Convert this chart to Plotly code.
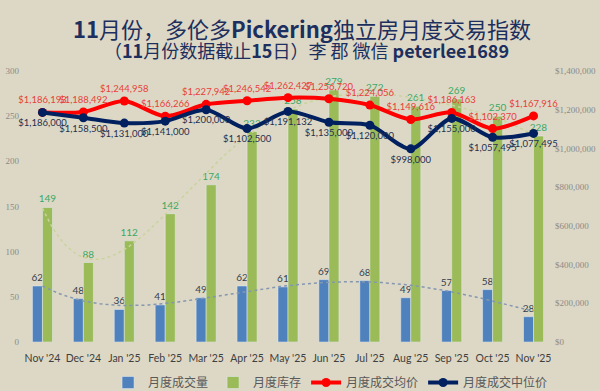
import numpy as np
import plotly.graph_objects as go

months = ["Nov '24", "Dec '24", "Jan '25", "Feb '25", "Mar '25", "Apr '25", "May '25",
          "Jun '25", "Jul '25", "Aug '25", "Sep '25", "Oct '25", "Nov '25"]
volume = [62, 48, 36, 41, 49, 62, 61, 69, 68, 49, 57, 58, 28]
inventory = [149, 88, 112, 142, 174, 233, 258, 279, 272, 261, 269, 250, 228]
avg_price = [1186193, 1188492, 1244958, 1166266, 1227942, 1246542, 1262427,
             1256720, 1224056, 1149616, 1186163, 1102370, 1167916]
median_price = [1186000, 1158500, 1131000, 1141000, 1200000, 1102500, 1191132,
                1135000, 1120000, 998000, 1155000, 1057495, 1077495]
left_ticks = [0, 50, 100, 150, 200, 250, 300]
right_ticks = [0, 200000, 400000, 600000, 800000, 1000000, 1200000, 1400000]

x = list(range(len(months)))
BG = "#ddd8c5"
NUMFONT = "Lato, 'Liberation Sans', sans-serif"
TICKFONT = "Lato, 'Liberation Sans', sans-serif"
CJK = "'Noto Sans CJK SC', sans-serif"

# trendlines (polynomial fits of the data, like the spreadsheet trendlines)
xf = np.linspace(0, len(months) - 1, 121)
inv_fit = np.polyval(np.polyfit(x, inventory, 5), xf)
vol_fit = np.polyval(np.polyfit(x, volume, 4), xf)

fig = go.Figure()
fig.add_trace(go.Bar(
    x=x, y=volume, name="月度成交量", marker_color="#4f81bd",
    text=[str(v) for v in volume], textposition="outside", constraintext="none",
    textfont=dict(color="#333f50", size=10, family=NUMFONT), cliponaxis=False))
fig.add_trace(go.Bar(
    x=x, y=inventory, name="月度库存", marker_color="#9bbb59",
    text=[str(v) for v in inventory], textposition="outside", constraintext="none",
    textfont=dict(color="#3aa865", size=10, family=NUMFONT), cliponaxis=False))
fig.add_trace(go.Scatter(
    x=xf, y=inv_fit, mode="lines", line=dict(color="#c9d39c", width=1.5, dash="dot"),
    showlegend=False, hoverinfo="skip"))
fig.add_trace(go.Scatter(
    x=xf, y=vol_fit, mode="lines", line=dict(color="#8497b0", width=1.5, dash="dot"),
    showlegend=False, hoverinfo="skip"))
fig.add_trace(go.Scatter(
    x=x, y=avg_price, name="月度成交均价", yaxis="y2", mode="lines+markers+text",
    line=dict(color="#ff0000", width=4, shape="spline", smoothing=0.8),
    marker=dict(color="#ff0000", size=9),
    text=[f"${v:,}" for v in avg_price], textposition="top center",
    textfont=dict(color="#e8403a", size=9.5, family=NUMFONT), cliponaxis=False))
fig.add_trace(go.Scatter(
    x=x, y=median_price, name="月度成交中位价", yaxis="y2", mode="lines+markers+text",
    line=dict(color="#002060", width=4, shape="spline", smoothing=0.8),
    marker=dict(color="#002060", size=9),
    text=[f"${v:,}" for v in median_price], textposition="bottom center",
    textfont=dict(color="#1f3050", size=9.5, family=NUMFONT), cliponaxis=False))

fig.update_layout(
    width=600, height=391,
    margin=dict(l=22, r=46, t=71, b=49, autoexpand=False),
    paper_bgcolor=BG, plot_bgcolor=BG,
    barmode="group", bargap=0.51, bargroupgap=0,
    showlegend=True,
    legend=dict(orientation="h", x=0.58, xanchor="center", y=-0.096, yanchor="top",
                font=dict(family=CJK, size=12, color="#595959"),
                bgcolor="rgba(0,0,0,0)", itemwidth=30, tracegroupgap=0),
    xaxis=dict(range=[-0.5, len(months) - 0.5], tickvals=x, ticktext=months,
               showgrid=False, zeroline=False, showline=False, ticks="",
               tickangle=0, automargin=False, ticklabelstandoff=8,
               tickfont=dict(family=TICKFONT, size=10.5, color="#404040")),
    yaxis=dict(range=[0, 300], tickvals=left_ticks, showgrid=False, zeroline=False,
               showline=False, ticks="", automargin=False, ticklabelstandoff=2,
               tickfont=dict(family="'Liberation Serif', serif", size=9, color="#8a8a8a")),
    yaxis2=dict(range=[0, 1400000], tickvals=right_ticks,
                ticktext=[f"${v:,}" for v in right_ticks], overlaying="y", side="right",
                showgrid=False, zeroline=False, showline=False, ticks="", automargin=False,
                tickfont=dict(family="'Liberation Serif', serif", size=9, color="#8a8a8a")),
)
fig.add_annotation(text="<b>11</b>月份，多伦多<b>Pickering</b>独立房月度交易指数",
                   xref="paper", yref="paper", x=(302 - 22) / 532, y=1 + (71 - 28) / 271,
                   xanchor="center", yanchor="middle", showarrow=False,
                   font=dict(family=CJK, size=22, color="#1c2f5e"))
fig.add_annotation(text="（<b>11</b>月份数据截止<b>15</b>日）李 郡 微信 <b>peterlee1689</b>",
                   xref="paper", yref="paper", x=(306 - 22) / 532, y=1 + (71 - 50) / 271,
                   xanchor="center", yanchor="middle", showarrow=False,
                   font=dict(family=CJK, size=18, color="#1c2f5e"))

fig.write_html("out.html", config={"displayModeBar": False},
               post_script="document.body.style.margin='0';")
